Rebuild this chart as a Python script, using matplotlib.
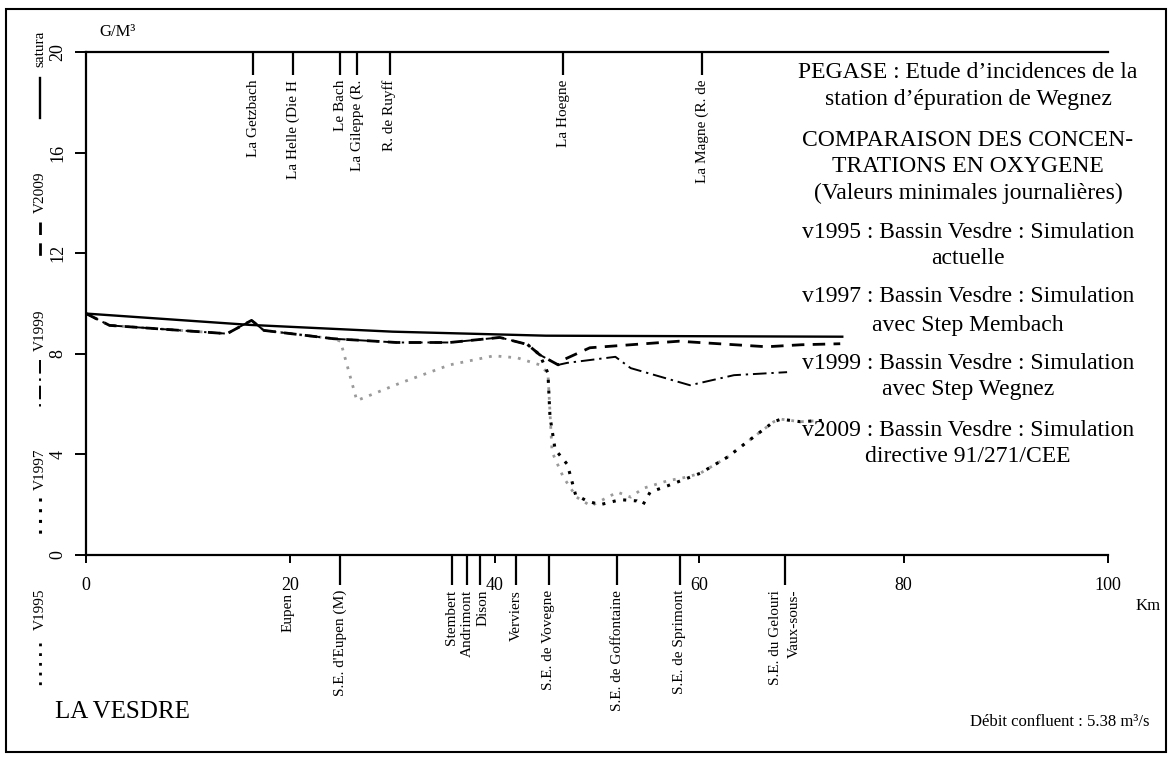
import matplotlib
matplotlib.use('Agg')
import matplotlib.pyplot as plt
from matplotlib.patches import Rectangle

plt.rcParams['font.family'] = ['Liberation Serif', 'DejaVu Serif']

# distance (km) / concentration en oxygene (g/m3)
satura_km = [0, 16, 30, 45, 74]
satura_val = [9.6, 9.15, 8.88, 8.72, 8.68]

v2009_km = [0, 2.3, 13.8, 16.2, 17.4, 24.2, 30.4, 35.6, 40.5, 43.2, 44.4, 46.2,
            46.7, 49.3, 58, 66.6, 70, 73.8]
v2009_val = [9.6, 9.13, 8.8, 9.33, 8.93, 8.6, 8.45, 8.45, 8.65, 8.37, 7.96, 7.56,
             7.76, 8.24, 8.5, 8.28, 8.36, 8.4]

v1999_km = [0, 2.3, 13.8, 16.2, 17.4, 24.2, 30.4, 35.6, 40.5, 43.2, 44.4, 46.2,
            47.1, 51.8, 53.3, 59.1, 63.4, 68.6]
v1999_val = [9.6, 9.13, 8.8, 9.33, 8.93, 8.6, 8.45, 8.45, 8.65, 8.37, 7.96, 7.56,
             7.64, 7.88, 7.43, 6.75, 7.15, 7.27]

v1997_km = [43.2, 44.4, 45.2, 45.4, 45.9, 47.1, 47.9, 49, 50.3, 52.3, 53.9, 54.5,
            55.2, 56.9, 60.1, 62.8, 64.7, 67.3, 68, 69.9, 72]
v1997_val = [8.37, 7.96, 7.23, 5.5, 4.2, 3.6, 2.4, 2.15, 2.0, 2.2, 2.15, 2.0,
             2.5, 2.75, 3.25, 3.9, 4.5, 5.3, 5.4, 5.3, 5.35]

v1995_km = [0, 2.3, 13.8, 16.2, 17.4, 24.2, 24.9, 26.5, 30.7, 35.6, 39.9, 42.2,
            44.4, 45.2, 45.6, 46.7, 48, 49.4, 52, 53.3, 54.5, 56.9, 58.8, 60.1,
            62.8, 64.7, 67.3, 68, 69.9, 72]
v1995_val = [9.6, 9.13, 8.8, 9.33, 8.93, 8.6, 8.5, 6.14, 6.83, 7.56, 7.92, 7.84,
             7.56, 7.23, 4.1, 3.1, 2.3, 1.95, 2.5, 2.3, 2.65, 2.95, 3.1, 3.25,
             3.9, 4.5, 5.3, 5.4, 5.3, 5.35]

# affluents (haut) et localites (bas)
top_names = ['La Getzbach', 'La Helle (Die H', 'Le Bach', 'La Gileppe (R.',
             'R. de Ruyff', 'La Hoegne', 'La Magne (R. de']
top_km = [16.35, 20.26, 24.87, 26.5, 29.7, 46.7, 60.3]

bot_names = ["S.E. d'Eupen (M)", 'Stembert', 'Andrimont', 'Dison', 'Verviers',
             'S.E. de Vovegne', 'S.E. de Goffontaine', 'S.E. de Sprimont',
             'S.E. du Gelouri']
bot_km = [24.9, 35.8, 37.3, 38.6, 42.1, 45.3, 52.0, 58.1, 68.4]
bot_label_km = [24.9, 35.8, 37.3, 38.8, 42.1, 45.3, 52.0, 58.1, 67.5]
extra_names = ['Eupen', 'Vaux-sous-']
extra_km = [19.8, 69.3]

right_lines = ['PEGASE : Etude d\u2019incidences de la',
               'station d\u2019épuration de Wegnez',
               'COMPARAISON DES CONCEN-',
               'TRATIONS EN OXYGENE',
               '(Valeurs minimales journalières)',
               'v1995 : Bassin Vesdre : Simulation',
               'actuelle',
               'v1997 : Bassin Vesdre : Simulation',
               'avec Step Membach',
               'v1999 : Bassin Vesdre : Simulation',
               'avec Step Wegnez',
               'v2009 : Bassin Vesdre : Simulation',
               'directive 91/271/CEE']
right_y = [73, 100, 141, 167, 193, 232, 258, 297, 325, 363, 390, 430, 456]

W, H = 1173, 762


def fx(px):
    return px / W


def fy(py):
    return 1 - py / H


fig = plt.figure(figsize=(11.73, 7.62), dpi=100)
ax = fig.add_axes([fx(86), fy(555), fx(1108) - fx(86), fy(52) - fy(555)])

styles = {
    'satura': dict(color='black', lw=1.7, ls='-'),
    'v2009': dict(color='black', lw=2.0, ls=(0, (4.5, 3))),
    'v1999': dict(color='black', lw=1.4, ls=(0, (7, 2.5, 1.2, 2.5))),
    'v1997': dict(color='black', lw=2.2, ls=(0, (1, 2.5))),
    'v1995': dict(color='#9a9a9a', lw=2.0, ls=(0, (1, 2.5))),
}

ax.plot(v1995_km, v1995_val, **styles['v1995'])
ax.plot(v1997_km, v1997_val, **styles['v1997'])
ax.plot(v1999_km, v1999_val, **styles['v1999'])
ax.plot(v2009_km, v2009_val, **styles['v2009'])
ax.plot(satura_km, satura_val, **styles['satura'])

ax.set_xlim(0, 100)
ax.set_ylim(0, 20)
ax.spines['right'].set_visible(False)
for s in ['left', 'bottom', 'top']:
    ax.spines[s].set_linewidth(1.6)

ax.set_yticks([0, 4, 8, 12, 16, 20])
ax.set_yticklabels(['0', '4', '8', '12', '16', '20'], rotation=90, va='center')
ax.set_xticks([0, 20, 40, 60, 80, 100])
ax.tick_params(axis='y', length=8, width=1.4, pad=6, labelsize=13)
ax.tick_params(axis='x', length=6, width=1.4, pad=10, labelsize=13)
ax.tick_params(top=False, right=False)

# affluents en haut
ax.vlines(top_km, 19.08, 20, color='black', lw=1.6, clip_on=False)
for name, km in zip(top_names, top_km):
    ax.text(km, 18.9, name, rotation=90, ha='center', va='top', fontsize=11)

# localites en bas
ax.vlines(bot_km, -1.19, 0, color='black', lw=1.6, clip_on=False)
for name, km in zip(bot_names, bot_label_km):
    ax.text(km, -1.39, name, rotation=90, ha='center', va='top', fontsize=11,
            clip_on=False)
for name, km in zip(extra_names, extra_km):
    ax.text(km, -1.5 if name == 'Eupen' else -1.39, name, rotation=90,
            ha='center', va='top', fontsize=11, clip_on=False)

# textes de la figure
fig.text(fx(118), fy(32), 'G/M³', ha='center', va='center', fontsize=12)
fig.text(fx(1148), fy(606), 'Km', ha='center', va='center', fontsize=12)
fig.text(fx(55), fy(712), 'LA VESDRE', ha='left', va='center', fontsize=18)
fig.text(fx(1150), fy(722), 'Débit confluent : 5.38 m³/s', ha='right',
         va='center', fontsize=12)
for line, py in zip(right_lines, right_y):
    fig.text(fx(968), fy(py), line, ha='center', va='center', fontsize=17)

# legende verticale a gauche
legend_items = [('satura', 'satura', 49, 78, 118),
                ('V2009', 'v2009', 192, 222, 262),
                ('V1999', 'v1999', 330, 360, 407),
                ('V1997', 'v1997', 469, 498, 537),
                ('V1995', 'v1995', 609, 643, 685)]
for label, key, ty, l0, l1 in legend_items:
    fig.text(fx(40), fy(ty), label, rotation=90, ha='center', va='center',
             fontsize=11)
    st = dict(styles[key])
    if key == 'v1995':
        st['color'] = 'black'
    fig.add_artist(plt.Line2D([fx(40), fx(40)], [fy(l0), fy(l1)],
                              transform=fig.transFigure, **st))

# cadre
fig.add_artist(Rectangle((fx(6), fy(752)), fx(1166) - fx(6), fy(9) - fy(752),
                         transform=fig.transFigure, fill=False, lw=1.5,
                         edgecolor='black'))

fig.savefig('out.png', dpi=100)
